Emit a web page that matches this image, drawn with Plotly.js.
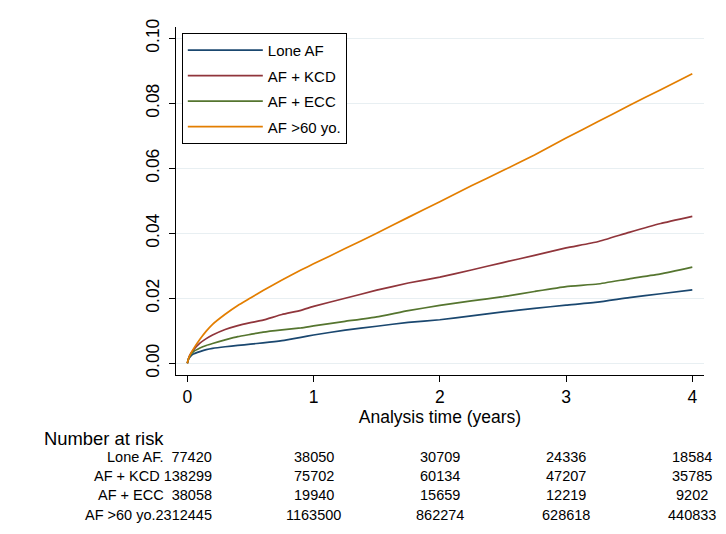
<!DOCTYPE html>
<html>
<head>
<meta charset="utf-8">
<script src="https://cdn.plot.ly/plotly-3.0.1.min.js"></script>
<style>html,body{margin:0;padding:0;background:#fff;}#chart{width:726px;height:534px;}</style>
</head>
<body>
<div id="chart"></div>
<script>
// Analysis time (years)
const time = [0, 0.01, 0.02, 0.05, 0.1, 0.15, 0.2, 0.3, 0.4, 0.5, 0.6, 0.75, 0.9, 1.0, 1.25, 1.5, 1.75, 2.0, 2.25, 2.5, 2.75, 3.0, 3.25, 3.5, 3.75, 4.0];
// Cumulative incidence per group
const loneAF = [0, 0.0013, 0.0019, 0.0029, 0.0036, 0.0042, 0.0046, 0.0051, 0.0055, 0.0059, 0.0063, 0.0070, 0.0080, 0.0087, 0.0102, 0.0114, 0.0126, 0.0134, 0.0146, 0.0158, 0.0169, 0.0179, 0.0188, 0.0202, 0.0214, 0.0226];
const afKCD  = [0, 0.0015, 0.0025, 0.0042, 0.0062, 0.0076, 0.0087, 0.0104, 0.0116, 0.0125, 0.0133, 0.0150, 0.0163, 0.0175, 0.0200, 0.0225, 0.0247, 0.0265, 0.0287, 0.0310, 0.0332, 0.0355, 0.0374, 0.0403, 0.0430, 0.0452];
const afECC  = [0, 0.0014, 0.0022, 0.0036, 0.0047, 0.0055, 0.0061, 0.0072, 0.0082, 0.0089, 0.0096, 0.0103, 0.0109, 0.0115, 0.0129, 0.0143, 0.0162, 0.0178, 0.0192, 0.0205, 0.0221, 0.0236, 0.0244, 0.0260, 0.0275, 0.0296];
const af60   = [0, 0.0015, 0.0024, 0.0045, 0.0074, 0.0099, 0.0120, 0.0151, 0.0178, 0.0201, 0.0224, 0.0256, 0.0287, 0.0306, 0.0353, 0.0400, 0.0449, 0.0497, 0.0546, 0.0593, 0.0641, 0.0693, 0.0743, 0.0793, 0.0842, 0.0891];

const seriesNames = ["Lone AF", "AF + KCD", "AF + ECC", "AF >60 yo."];
const seriesColors = ["#1a476f", "#90353b", "#55752f", "#e37e00"];
const seriesValues = [loneAF, afKCD, afECC, af60];

// Number at risk table
const riskTimes = [0, 1, 2, 3, 4];
const riskLabels = ["Lone AF.  ", "AF + KCD ", "AF + ECC  ", "AF >60 yo."];
const riskLone = [77420, 38050, 30709, 24336, 18584];
const riskKCD  = [138299, 75702, 60134, 47207, 35785];
const riskECC  = [38058, 19940, 15659, 12219, 9202];
const risk60   = [2312445, 1163500, 862274, 628618, 440833];
const riskRows = [riskLone, riskKCD, riskECC, risk60];

const yTicks = [0, 0.02, 0.04, 0.06, 0.08, 0.10];
const xTicks = [0, 1, 2, 3, 4];

const FONT = "Liberation Sans, Arial, Helvetica, sans-serif";

const traces = seriesNames.map((n, i) => ({
  x: time, y: seriesValues[i], type: "scatter", mode: "lines", name: n,
  line: {color: seriesColors[i], width: 1.7, shape: "spline", smoothing: 0.4},
  legendgroup: "g" + i
}));

const annotations = [];
annotations.push({
  text: "Number at risk", xref: "paper", yref: "paper", x: -0.2538, y: 0,
  yshift: -63, xanchor: "left", yanchor: "middle", showarrow: false,
  font: {family: FONT, size: 18.4, color: "#000"}
});
const rowShift = [-82, -101, -120, -140];
riskRows.forEach((row, r) => {
  row.forEach((v, c) => {
    if (c === 0) {
      annotations.push({
        text: riskLabels[r] + v, xref: "x", yref: "paper", x: riskTimes[c], y: 0,
        xshift: 27, yshift: rowShift[r], xanchor: "right", yanchor: "middle", showarrow: false,
        font: {family: FONT, size: 14.5, color: "#000"}
      });
    } else {
      annotations.push({
        text: String(v), xref: "x", yref: "paper", x: riskTimes[c], y: 0,
        yshift: rowShift[r], xanchor: "center", yanchor: "middle", showarrow: false,
        font: {family: FONT, size: 14.5, color: "#000"}
      });
    }
  });
});

const layout = {
  width: 726, height: 534,
  margin: {l: 176, r: 22, t: 27, b: 159},
  paper_bgcolor: "#fff", plot_bgcolor: "#fff",
  font: {family: FONT, color: "#000"},
  showlegend: true,
  legend: {
    x: 0.011, y: 0.983, xanchor: "left", yanchor: "top",
    bgcolor: "#fff", bordercolor: "#000", borderwidth: 1,
    font: {family: FONT, size: 15, color: "#000"},
    tracegroupgap: 3, itemwidth: 75
  },
  xaxis: {
    range: [-0.0895, 4.0927], tickvals: xTicks, ticktext: xTicks.map(String),
    showgrid: false, zeroline: false, showline: true, linecolor: "#000", linewidth: 1,
    ticks: "outside", ticklen: 6, tickcolor: "#000", tickwidth: 1,
    tickfont: {family: FONT, size: 17.5, color: "#000"},
    title: {text: "Analysis time (years)", font: {family: FONT, size: 17.5, color: "#000"}, standoff: 0}
  },
  yaxis: {
    range: [-0.0036, 0.10348], tickvals: yTicks, ticktext: yTicks.map(v => v.toFixed(2)),
    showgrid: true, gridcolor: "#e8eff2", gridwidth: 1, zeroline: false,
    showline: true, linecolor: "#000", linewidth: 1,
    ticks: "outside", ticklen: 6, tickcolor: "#000", tickwidth: 1, tickangle: -90,
    ticklabelstandoff: 3,
    tickfont: {family: FONT, size: 17.5, color: "#000"}
  },
  annotations: annotations
};

Plotly.newPlot("chart", traces, layout, {displayModeBar: false, staticPlot: true});
</script>
</body>
</html>
